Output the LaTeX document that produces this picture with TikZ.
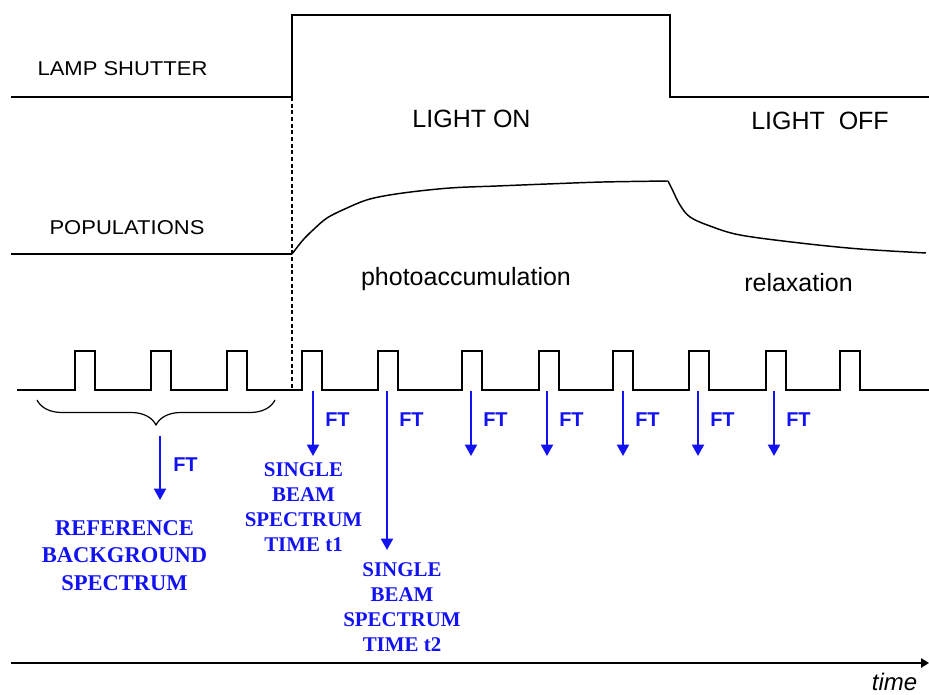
\documentclass[tikz,border=0pt]{standalone}
\usepackage{fontspec}
\setmainfont{Liberation Serif}
\setsansfont{Liberation Sans}
\newfontfamily\widesans[FakeStretch=1.1]{Liberation Sans}
\usetikzlibrary{arrows.meta,decorations.pathreplacing}

\begin{document}
\begin{tikzpicture}[x=0.75pt,y=-0.75pt,
  trace/.style={black,line width=1.1pt,line join=miter},
  ftarrow/.style={ftblue,line width=1.4pt,-{Triangle[length=8.5pt,width=9pt]}},
  ftlabel/.style={anchor=west,inner sep=0pt,text=ftblue,font=\sffamily\bfseries\fontsize{15}{18}\selectfont},
  spectext/.style={align=center,inner sep=0pt,text=ftblue,font=\rmfamily\bfseries\fontsize{15.7}{18.75}\selectfont},
  rowlabel/.style={inner sep=0pt,font=\widesans\fontsize{15}{18}\selectfont},
  phaselabel/.style={inner sep=0pt,font=\sffamily\fontsize{18.75}{22}\selectfont}]
\definecolor{ftblue}{HTML}{1212F2}
\useasboundingbox (0,0) rectangle (929,695);
% lamp shutter trace
\draw[trace] (11,97) -- (292,97) -- (292,15) -- (670,15) -- (670,97) -- (929,97);
\node[rowlabel] (shutter) at (122.5,69) {LAMP SHUTTER};
\node[phaselabel] (lighton) at (471.5,119) {LIGHT ON};
\node[phaselabel] (lightoff) at (820,121) {LIGHT\ \ OFF};
% populations trace
\draw[trace] (11,254) -- (292,254);
\draw[trace] plot[smooth,tension=0.55] coordinates {(292,254) (303,240) (313,230) (327,218) (347,208) (370,199) (403,193) (450,188) (497,186) (547,184) (603,182) (668,181)};
\draw[trace] plot[smooth,tension=0.55] coordinates {(668,181) (672,189) (680,205) (690,217) (710,226) (740,235) (800,243) (860,249) (926,253)};
\node[rowlabel] (popul) at (127,228) {POPULATIONS};
\node[phaselabel] (photo) at (466,279) {photoaccumulation};
\node[phaselabel] (relax) at (798.5,283) {relaxation};
% light switched on
\draw[black,line width=1pt,densely dashed] (292,97) -- (292,390);
% interferogram pulses
\draw[trace] (17,390) foreach \p in {75,151,227,302,378,462,539,613,689,766,840} { -- (\p,390) -- (\p,351) -- (\p+20,351) -- (\p+20,390) } -- (929,390);
% reference: average of pulses before the light
\draw[black,line width=0.9pt,decorate,decoration={brace,mirror,amplitude=18.75pt}] (37,400) -- (275,400);
\coordinate (refsrc) at (160,436);
\coordinate (refend) at (160,500);
\draw[ftarrow] (refsrc) -- (refend);
\node[ftlabel] (ftref) at (173,465) {FT};
\node[spectext,font=\rmfamily\bfseries\fontsize{16.9}{20.6}\selectfont] (refspec) at (124.5,555.5) {REFERENCE\\BACKGROUND\\SPECTRUM};
% single beam spectra
\foreach \x [count=\i] in {313,387,471,547,623,698,774} {
  \coordinate (src\i) at (\x,391);
  \coordinate (end\i) at (\x,456);
  \node[ftlabel] (ft\i) at (\x+12,420) {FT};
}
\coordinate (end2) at (387,550);
\foreach \i in {1,...,7} \draw[ftarrow] (src\i) -- (end\i);
\node[spectext] (spec1) at (303.5,507.5) {SINGLE\\BEAM\\SPECTRUM\\TIME t1};
\node[spectext] (spec2) at (402,607.5) {SINGLE\\BEAM\\SPECTRUM\\TIME t2};
% time axis
\coordinate (tstart) at (11,663);
\coordinate (tend) at (929,663);
\draw[black,line width=1.5pt,-{Triangle[length=6pt,width=7pt]}] (tstart) -- (tend);
\node[inner sep=0pt,font=\sffamily\itshape\fontsize{18}{21}\selectfont] (timelbl) at (894.5,681.5) {time};
\end{tikzpicture}
\end{document}
